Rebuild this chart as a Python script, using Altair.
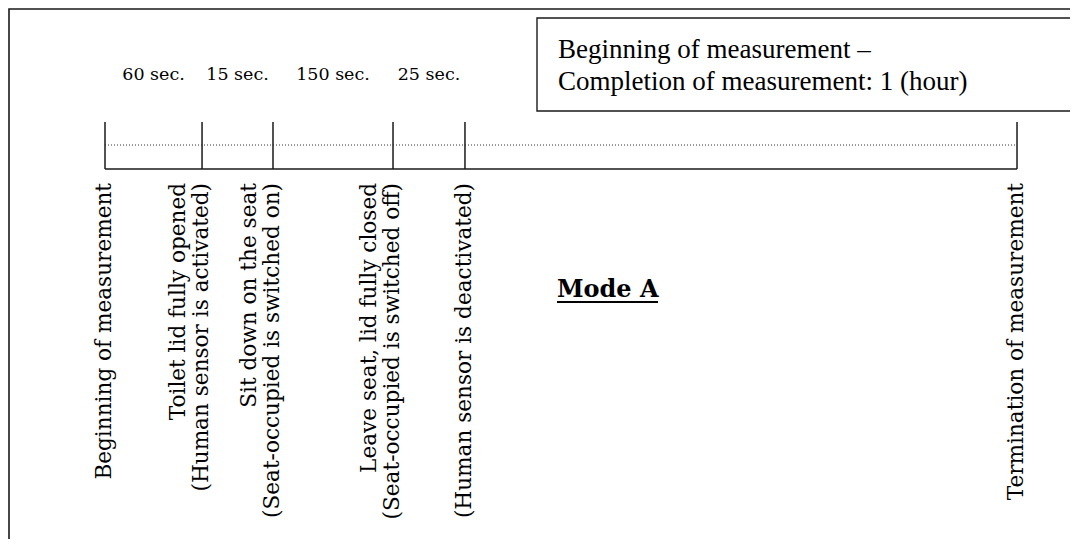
import altair as alt
import pandas as pd

# ---- data -------------------------------------------------------------
# schematic position of each event along the (not-to-scale) timeline, 0..100
event_pos = [0, 10.64, 18.42, 31.58, 39.47, 100]
event_line1 = [
    "",
    "Toilet lid fully opened",
    "Sit down on the seat",
    "Leave seat, lid fully closed",
    "",
    "",
]
event_line2 = [
    "Beginning of measurement",
    "(Human sensor is activated)",
    "(Seat-occupied is switched on)",
    "(Seat-occupied is switched off)",
    "(Human sensor is deactivated)",
    "Termination of measurement",
]
durations = ["60 sec.", "15 sec.", "150 sec.", "25 sec."]
box_text = ["Beginning of measurement \u2013", "Completion of measurement: 1 (hour)"]
mode_label = "Mode A"

# ---- tables -----------------------------------------------------------
events = pd.DataFrame({"pos": event_pos, "line1": event_line1, "line2": event_line2})
dur = pd.DataFrame({
    "mid": [(event_pos[i] + event_pos[i + 1]) / 2 for i in range(len(durations))],
    "label": durations,
})
span = pd.DataFrame({"start": [event_pos[0]], "end": [event_pos[-1]]})
one = pd.DataFrame({"k": [0]})

W, H = 1062, 531
xscale = alt.Scale(domain=[-10.636, 105.81], nice=False, zero=False)
X = lambda f: alt.X(f, scale=xscale, axis=None)

serif = "DejaVu Serif"

frame = alt.Chart(one).mark_rect(fill="white", stroke="#1a1a1a", strokeWidth=1.6).encode(
    x=alt.value(1), x2=alt.value(1300), y=alt.value(1), y2=alt.value(800)
)
box = alt.Chart(one).mark_rect(fill="white", stroke="#1a1a1a", strokeWidth=1.4).encode(
    x=alt.value(529), x2=alt.value(1300), y=alt.value(10), y2=alt.value(103)
)
box_txt = alt.Chart(pd.DataFrame({"t": [box_text]})).mark_text(
    font="Liberation Serif", fontSize=27, align="left", baseline="alphabetic",
    lineHeight=32, color="black"
).encode(x=alt.value(550), y=alt.value(50), text="t")

ticks = alt.Chart(events).mark_rule(color="#1a1a1a", strokeWidth=1.5).encode(
    x=X("pos:Q"), y=alt.value(114), y2=alt.value(161)
)
base = alt.Chart(span).mark_rule(color="#1a1a1a", strokeWidth=1.6).encode(
    x=X("start:Q"), x2="end:Q", y=alt.value(161)
)
dots = alt.Chart(span).mark_rule(color="#333", strokeWidth=1, strokeDash=[1, 2]).encode(
    x=X("start:Q"), x2="end:Q", y=alt.value(137)
)
dur_txt = alt.Chart(dur).mark_text(
    font=serif, fontSize=17.5, align="center", baseline="alphabetic", color="black"
).encode(x=X("mid:Q"), y=alt.value(72), text="label:N")

lab2 = alt.Chart(events).mark_text(
    font=serif, fontSize=21.6, angle=270, align="right", baseline="middle", color="black"
).encode(x=X("pos:Q"), y=alt.value(175), text="line2:N")
lab1 = alt.Chart(events).transform_filter("datum.line1 != ''").mark_text(
    font=serif, fontSize=21.6, angle=270, align="right", baseline="middle", dy=-23, color="black"
).encode(x=X("pos:Q"), y=alt.value(175), text="line1:N")

mode = alt.Chart(pd.DataFrame({"t": [mode_label]})).mark_text(
    font=serif, fontSize=24, fontWeight="bold", align="left", baseline="alphabetic", color="black"
).encode(x=alt.value(549), y=alt.value(289), text="t:N")
underline = alt.Chart(one).mark_rule(color="black", strokeWidth=2.2).encode(
    x=alt.value(549), x2=alt.value(650), y=alt.value(294)
)

chart = alt.layer(
    frame, box, box_txt, dots, base, ticks, dur_txt, lab2, lab1, mode, underline
).properties(
    width=W, height=H, padding=0, autosize=alt.AutoSizeParams(type="none")
).configure_view(stroke=None)

chart.save("out.html", embed_options={"renderer": "svg", "actions": False})
